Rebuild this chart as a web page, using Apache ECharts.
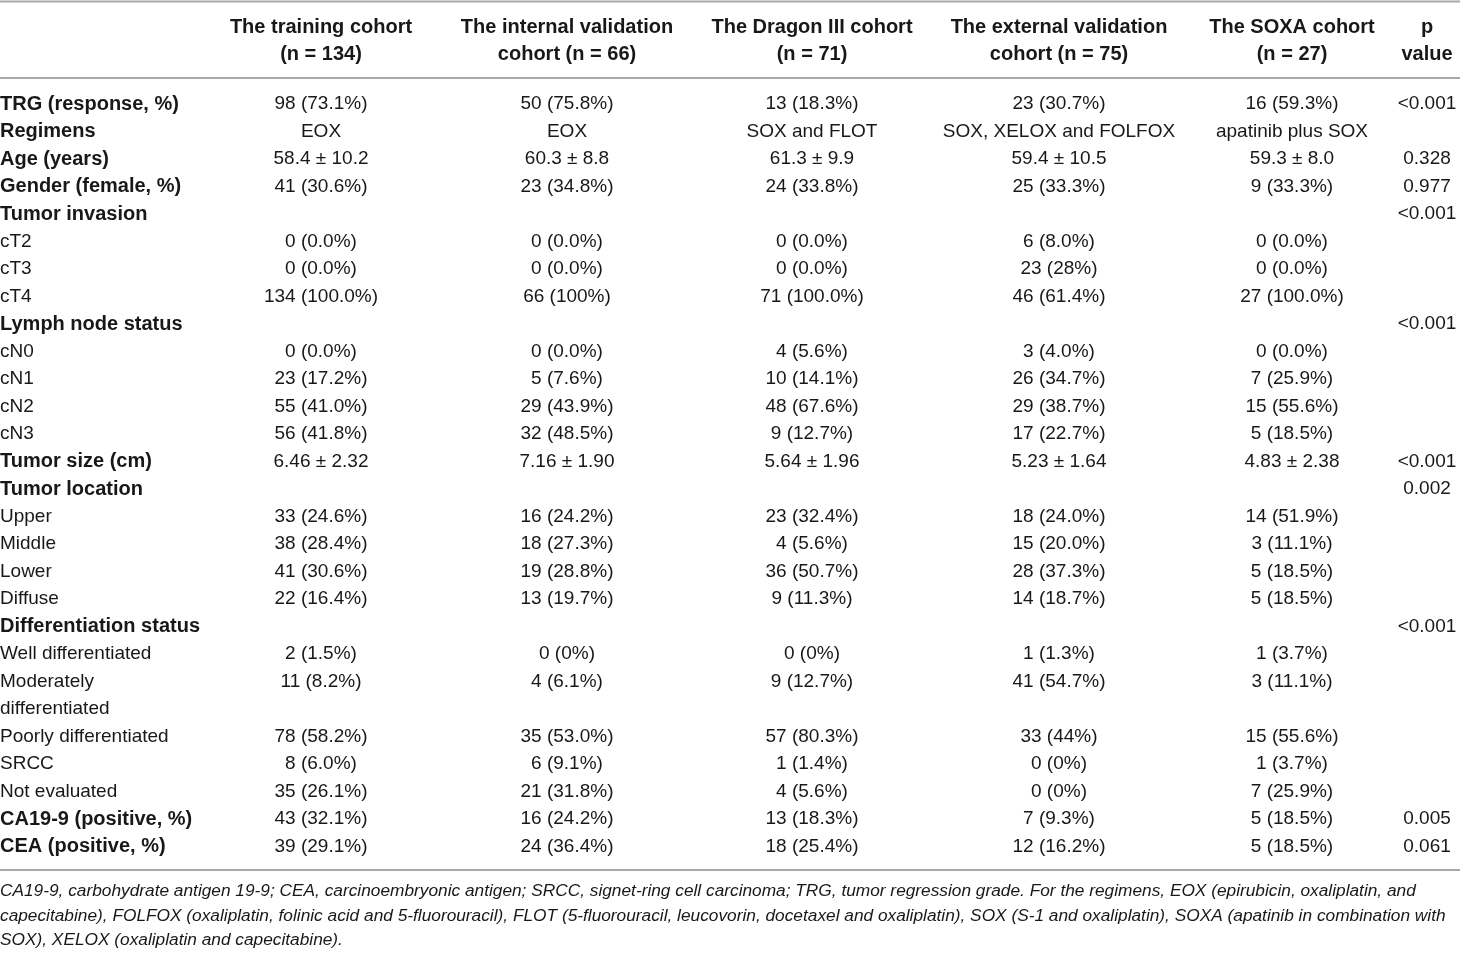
<!DOCTYPE html>
<html><head><meta charset="utf-8">
<script src="https://cdn.jsdelivr.net/npm/echarts@6/dist/echarts.min.js"></script>
<style>html,body{margin:0;padding:0;background:#fff}#c{width:1460px;height:953px}</style>
</head><body><div id="c"></div>
<script>
// ---------- DATA ----------
const headerLine1 = ["", "The training cohort", "The internal validation", "The Dragon III cohort", "The external validation", "The SOXA cohort", "p"];
const headerLine2 = ["", "(n = 134)", "cohort (n = 66)", "(n = 71)", "cohort (n = 75)", "(n = 27)", "value"];

const rowLabels = [
  "TRG (response, %)", "Regimens", "Age (years)", "Gender (female, %)",
  "Tumor invasion", "cT2", "cT3", "cT4",
  "Lymph node status", "cN0", "cN1", "cN2", "cN3",
  "Tumor size (cm)",
  "Tumor location", "Upper", "Middle", "Lower", "Diffuse",
  "Differentiation status", "Well differentiated", "Moderately\ndifferentiated", "Poorly differentiated", "SRCC", "Not evaluated",
  "CA19-9 (positive, %)", "CEA (positive, %)"
];
const sectionRows = [1,1,1,1, 1,0,0,0, 1,0,0,0,0, 1, 1,0,0,0,0, 1,0,0,0,0,0, 1,1];

const training = ["98 (73.1%)", "EOX", "58.4 ± 10.2", "41 (30.6%)",
  "", "0 (0.0%)", "0 (0.0%)", "134 (100.0%)",
  "", "0 (0.0%)", "23 (17.2%)", "55 (41.0%)", "56 (41.8%)",
  "6.46 ± 2.32",
  "", "33 (24.6%)", "38 (28.4%)", "41 (30.6%)", "22 (16.4%)",
  "", "2 (1.5%)", "11 (8.2%)", "78 (58.2%)", "8 (6.0%)", "35 (26.1%)",
  "43 (32.1%)", "39 (29.1%)"];
const internal = ["50 (75.8%)", "EOX", "60.3 ± 8.8", "23 (34.8%)",
  "", "0 (0.0%)", "0 (0.0%)", "66 (100%)",
  "", "0 (0.0%)", "5 (7.6%)", "29 (43.9%)", "32 (48.5%)",
  "7.16 ± 1.90",
  "", "16 (24.2%)", "18 (27.3%)", "19 (28.8%)", "13 (19.7%)",
  "", "0 (0%)", "4 (6.1%)", "35 (53.0%)", "6 (9.1%)", "21 (31.8%)",
  "16 (24.2%)", "24 (36.4%)"];
const dragon = ["13 (18.3%)", "SOX and FLOT", "61.3 ± 9.9", "24 (33.8%)",
  "", "0 (0.0%)", "0 (0.0%)", "71 (100.0%)",
  "", "4 (5.6%)", "10 (14.1%)", "48 (67.6%)", "9 (12.7%)",
  "5.64 ± 1.96",
  "", "23 (32.4%)", "4 (5.6%)", "36 (50.7%)", "9 (11.3%)",
  "", "0 (0%)", "9 (12.7%)", "57 (80.3%)", "1 (1.4%)", "4 (5.6%)",
  "13 (18.3%)", "18 (25.4%)"];
const external = ["23 (30.7%)", "SOX, XELOX and FOLFOX", "59.4 ± 10.5", "25 (33.3%)",
  "", "6 (8.0%)", "23 (28%)", "46 (61.4%)",
  "", "3 (4.0%)", "26 (34.7%)", "29 (38.7%)", "17 (22.7%)",
  "5.23 ± 1.64",
  "", "18 (24.0%)", "15 (20.0%)", "28 (37.3%)", "14 (18.7%)",
  "", "1 (1.3%)", "41 (54.7%)", "33 (44%)", "0 (0%)", "0 (0%)",
  "7 (9.3%)", "12 (16.2%)"];
const soxa = ["16 (59.3%)", "apatinib plus SOX", "59.3 ± 8.0", "9 (33.3%)",
  "", "0 (0.0%)", "0 (0.0%)", "27 (100.0%)",
  "", "0 (0.0%)", "7 (25.9%)", "15 (55.6%)", "5 (18.5%)",
  "4.83 ± 2.38",
  "", "14 (51.9%)", "3 (11.1%)", "5 (18.5%)", "5 (18.5%)",
  "", "1 (3.7%)", "3 (11.1%)", "15 (55.6%)", "1 (3.7%)", "7 (25.9%)",
  "5 (18.5%)", "5 (18.5%)"];
const pValues = ["<0.001", "", "0.328", "0.977",
  "<0.001", "", "", "",
  "<0.001", "", "", "", "",
  "<0.001",
  "0.002", "", "", "", "",
  "<0.001", "", "", "", "", "",
  "0.005", "0.061"];

const footnotes = [
  "CA19-9, carbohydrate antigen 19-9; CEA, carcinoembryonic antigen; SRCC, signet-ring cell carcinoma; TRG, tumor regression grade. For the regimens, EOX (epirubicin, oxaliplatin, and",
  "capecitabine), FOLFOX (oxaliplatin, folinic acid and 5-fluorouracil), FLOT (5-fluorouracil, leucovorin, docetaxel and oxaliplatin), SOX (S-1 and oxaliplatin), SOXA (apatinib in combination with",
  "SOX), XELOX (oxaliplatin and capecitabine)."
];

// ---------- LAYOUT ----------
const W = 1460, H = 953;
const ROW0 = 104, PITCH = 27.5;           // pixel centre of first body line, line pitch
const COL_X = [0, 321, 567, 812, 1059, 1292, 1427];
const HEAD_PX = [27, 54];
const RULES_PX = [1.5, 78, 870];
const FOOT_PX = [891, 916, 940];
const FONT = '"Liberation Sans", Arial, sans-serif';
const INK = '#1a1718';
const toLine = px => (px - ROW0) / PITCH;

// ---------- BUILD ----------
const columns = [rowLabels, training, internal, dragon, external, soxa, pValues];
const BOLD = { fontWeight: 'bold', fontSize: 20 };
const items = [];
function push(col, line, txt, lab) {
  if (!txt) return;
  items.push({
    value: [COL_X[col], line],
    txt: txt,
    label: Object.assign({ align: col === 0 ? 'left' : 'center', fontWeight: 'normal' }, lab || {})
  });
}
// header
for (let c = 1; c < columns.length; c++) {
  push(c, toLine(HEAD_PX[0]), headerLine1[c], BOLD);
  push(c, toLine(HEAD_PX[1]), headerLine2[c], BOLD);
}
// body
let line = 0;
rowLabels.forEach((lab, r) => {
  const parts = lab.split('\n');
  parts.forEach((p, k) => push(0, line + k, p, sectionRows[r] ? BOLD : null));
  for (let c = 1; c < columns.length; c++) push(c, line, columns[c][r]);
  line += parts.length;
});
// footnotes
footnotes.forEach((f, k) => push(0, toLine(FOOT_PX[k]), f, { fontStyle: 'italic', fontSize: 17.3 }));

const chart = echarts.init(document.getElementById('c'), null, { renderer: 'canvas' });
chart.setOption({
  animation: false,
  backgroundColor: '#fff',
  grid: { left: 0, right: 0, top: 0, bottom: 0, containLabel: false },
  xAxis: { type: 'value', min: 0, max: W, show: false },
  yAxis: { type: 'value', inverse: true, min: toLine(0), max: toLine(H), show: false },
  graphic: RULES_PX.map(y => ({
    type: 'line', silent: true,
    shape: { x1: 0, y1: y, x2: W, y2: y },
    style: { stroke: '#a8a8a8', lineWidth: 2 }
  })),
  series: [{
    type: 'scatter',
    silent: true,
    symbolSize: 1,
    itemStyle: { color: 'rgba(0,0,0,0)' },
    label: {
      show: true,
      position: 'inside',
      verticalAlign: 'middle',
      color: INK,
      opacity: 1,
      fontFamily: FONT,
      fontSize: 19,
      formatter: p => p.data.txt
    },
    labelLayout: { hideOverlap: false },
    data: items
  }]
});
</script>
</body></html>
